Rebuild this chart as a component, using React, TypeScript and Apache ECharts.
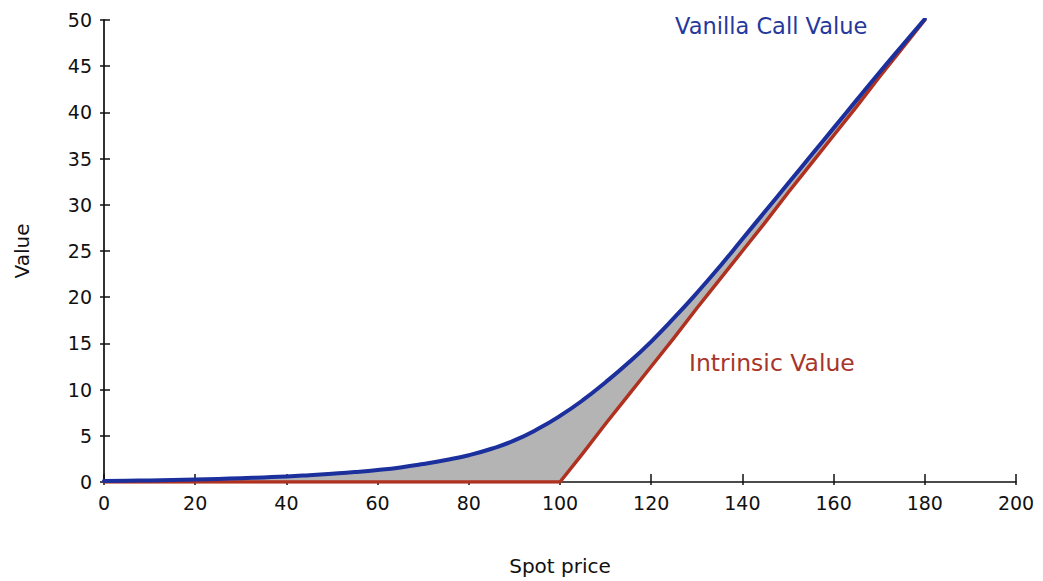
import React, { useEffect, useRef } from "react";
import * as echarts from "echarts";

const spot = [0, 5, 10, 15, 20, 25, 30, 35, 40, 45, 50, 55, 60, 65, 70, 75, 80, 85, 90, 95, 100, 105, 110, 115, 120, 125, 130, 135, 140, 145, 150, 155, 160, 165, 170, 175, 180];
const callValue = [0.12, 0.14, 0.17, 0.21, 0.26, 0.33, 0.41, 0.5, 0.6, 0.74, 0.9, 1.08, 1.3, 1.58, 1.95, 2.38, 2.9, 3.6, 4.5, 5.7, 7.15, 8.85, 10.8, 12.9, 15.2, 17.75, 20.45, 23.3, 26.3, 29.3, 32.3, 35.3, 38.3, 41.3, 44.3, 47.2, 50.1];
const intrinsicValue = [0, 0, 0, 0, 0, 0, 0, 0, 0, 0, 0, 0, 0, 0, 0, 0, 0, 0, 0, 0, 0, 3.1, 6.3, 9.4, 12.5, 15.6, 18.8, 21.9, 25, 28.1, 31.3, 34.4, 37.5, 40.6, 43.8, 46.9, 50];

const xTicks = { min: 0, max: 200, interval: 20 };
const yTicks = { min: 0, max: 50, interval: 5 };

const FONT = "DejaVu Sans";
const BLUE = "#1b2f9d";
const RED = "#b0311f";

export default function App() {
  const ref = useRef<HTMLDivElement>(null);
  useEffect(() => {
    document.body.style.margin = "0";
    const chart = echarts.init(ref.current!, null, { renderer: "svg" });
    const pairs = (vals: number[]) => spot.map((s, i) => [s, vals[i]]);
    const labelStyle = { fontFamily: FONT, fontSize: 19, color: "#111" };
    chart.setOption({
      animation: false,
      backgroundColor: "#ffffff",
      grid: { left: 104, right: 27, top: 20, bottom: 99, containLabel: false },
      xAxis: [
        {
          type: "value",
          position: "bottom",
          ...xTicks,
          name: "Spot price",
          nameLocation: "middle",
          nameGap: 74,
          nameTextStyle: { fontFamily: FONT, fontSize: 20, color: "#111" },
          axisLine: { show: true, lineStyle: { color: "#111", width: 1.5 } },
          axisTick: { show: true, inside: true, length: 8, lineStyle: { color: "#111", width: 1.5 } },
          axisLabel: { ...labelStyle, margin: 11 },
          splitLine: { show: false },
        },
        {
          type: "value",
          position: "bottom",
          ...xTicks,
          axisLine: { show: false },
          axisTick: { show: true, inside: false, length: 3, lineStyle: { color: "#111", width: 1.5 } },
          axisLabel: { show: false },
          splitLine: { show: false },
        },
      ],
      yAxis: [
        {
          type: "value",
          position: "left",
          ...yTicks,
          name: "Value",
          nameLocation: "middle",
          nameGap: 72,
          nameRotate: 90,
          nameTextStyle: { fontFamily: FONT, fontSize: 20, color: "#111" },
          axisLine: { show: true, lineStyle: { color: "#333", width: 2 } },
          axisTick: { show: true, inside: false, length: 4, lineStyle: { color: "#111", width: 1.5 } },
          axisLabel: { ...labelStyle, margin: 12 },
          splitLine: { show: false },
        },
        {
          type: "value",
          position: "left",
          ...yTicks,
          axisLine: { show: false },
          axisTick: { show: true, inside: true, length: 6, lineStyle: { color: "#111", width: 1.5 } },
          axisLabel: { show: false },
          splitLine: { show: false },
        },
      ],
      series: [
        {
          name: "gap",
          type: "custom",
          silent: true,
          z: 1,
          data: spot.map((s, i) => [s, callValue[i], intrinsicValue[i]]),
          renderItem: (params: any, api: any) => {
            if (params.dataIndex !== 0) return null;
            const top = spot.map((s, i) => api.coord([s, callValue[i]]));
            const bottom = spot.map((s, i) => api.coord([s, intrinsicValue[i]])).reverse();
            return {
              type: "polygon",
              shape: { points: top.concat(bottom) },
              style: { fill: "#b4b4b4" },
            };
          },
          encode: { x: 0, y: 1 },
        },
        {
          name: "Intrinsic Value",
          type: "line",
          data: pairs(intrinsicValue),
          showSymbol: false,
          symbol: "none",
          lineStyle: { color: RED, width: 3.5, cap: "round", join: "round" },
          z: 3,
        },
        {
          name: "Vanilla Call Value",
          type: "line",
          data: pairs(callValue),
          showSymbol: false,
          symbol: "none",
          smooth: 0.5,
          lineStyle: { color: BLUE, width: 4, cap: "round", join: "round" },
          z: 4,
        },
      ],
      graphic: [
        {
          type: "text",
          left: 675,
          top: 14,
          style: { text: "Vanilla Call Value", fontFamily: FONT, fontSize: 22.5, fill: "#26389c" },
        },
        {
          type: "text",
          left: 689,
          top: 351,
          style: { text: "Intrinsic Value", fontFamily: FONT, fontSize: 23.5, fill: "#a8352a" },
        },
      ],
    });
    return () => chart.dispose();
  }, []);
  return <div ref={ref} style={{ width: 1043, height: 581 }} />;
}
